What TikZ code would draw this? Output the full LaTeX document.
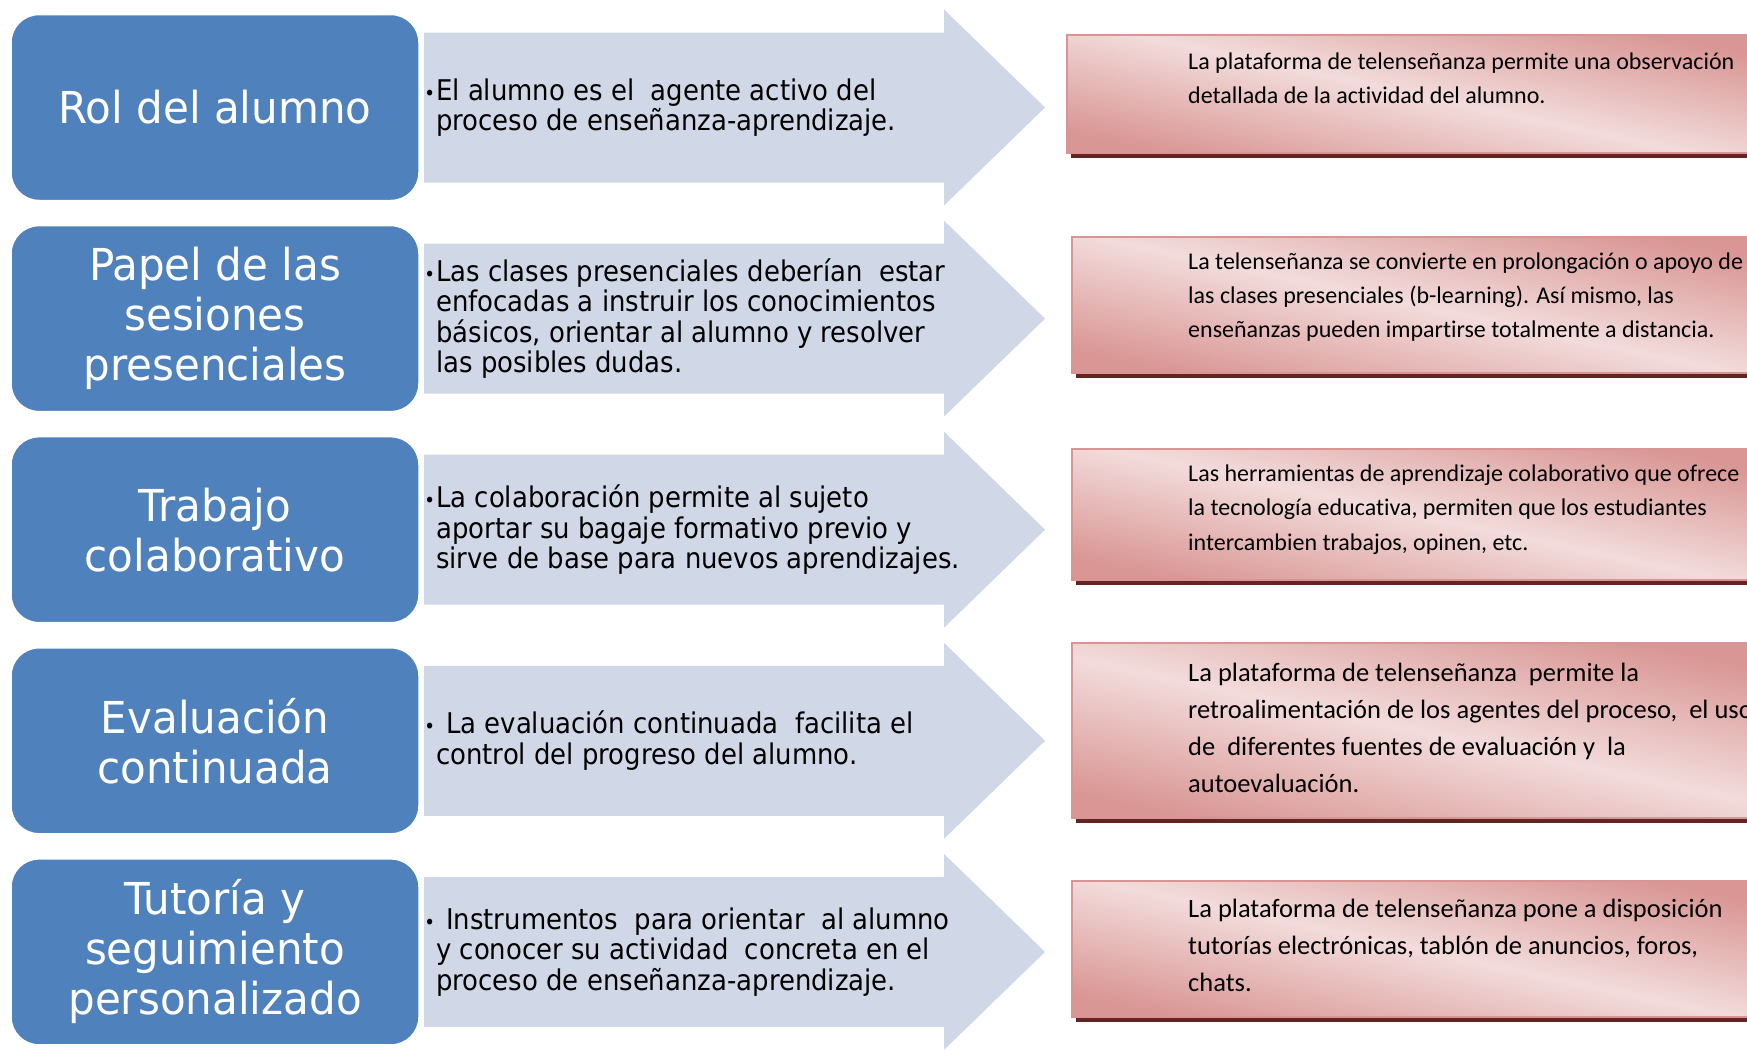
\documentclass[tikz,border=0pt]{standalone}
\usepackage{fontspec}
\newfontfamily\bluefont[FakeStretch=0.955]{DejaVu Sans}
\newfontfamily\arrowfont[FakeStretch=0.91]{DejaVu Sans}
\newfontfamily\redfont[Ligatures=NoCommon]{Carlito}
\definecolor{boxblue}{HTML}{4F81BD}
\definecolor{arrowfill}{HTML}{D0D8E8}
\definecolor{pinklight}{HTML}{F2DCDB}
\definecolor{pinkdark}{HTML}{D99694}
\definecolor{pinkedge}{HTML}{D99594}
\definecolor{shadowred}{HTML}{632523}
\tikzset{
  bluebox/.style={draw=white, line width=1.5pt, fill=boxblue, rounded corners=28pt,
    minimum width=408pt, minimum height=186pt, text=white, align=center,
    font=\bluefont\fontsize{44}{50}\selectfont, inner sep=0pt},
  arrowshape/.style={fill=arrowfill},
  arrowtext/.style={anchor=west, align=left, inner sep=0pt, text=black,
    font=\arrowfont\fontsize{28.5}{30.5}\selectfont},
  pinkbox/.style={draw=pinkedge, line width=2pt, top color=pinkdark, bottom color=pinkdark,
    middle color=pinklight, shading angle=-12},
  shadowbar/.style={fill=shadowred},
  redtext/.style={anchor=west, align=left, inner sep=0pt, text=black,
    font=\redfont\fontsize{24}{34.3}\selectfont},
  redtextbig/.style={redtext, font=\redfont\fontsize{26.5}{37}\selectfont},
}
\newcommand\myarrow[1]{%
  \fill[arrowshape] (424,{#1-75}) -- (944,{#1-75}) -- (944,{#1-98}) -- (1045,#1)
    -- (944,{#1+98}) -- (944,{#1+75}) -- (424,{#1+75}) -- cycle;}
\newcommand\mypink[3]{%
  \fill[shadowbar] ({#1+4},{#2+4}) rectangle (1760,{#3+5});
  \shade[pinkbox] (#1,#2) rectangle (1760,#3);}
\newcommand\bul{\llap{{\fontsize{20}{20}\selectfont\textbullet}\hspace{1pt}}}
\begin{document}
\begin{tikzpicture}[x=1pt,y=-1pt]
\fill[white] (0,0) rectangle (1747,1050);
\path[use as bounding box] (0,0) rectangle (1747,1050);

% row 1
\myarrow{107.5}
\mypink{1067}{35}{153}
\node[bluebox] (b1) at (215,107.5) {Rol del alumno};
\node[arrowtext] (a1) at (436,107.5) {\bul El alumno es el~ agente activo del\\proceso de enseñanza-aprendizaje.};
\node[redtext] (r1) at (1188,78.5) {La plataforma de telenseñanza permite una observación\\detallada de la actividad del alumno.};

% row 2
\myarrow{318.6}
\mypink{1072}{237}{373}
\node[bluebox] (b2) at (215,318.6) {Papel de las\\sesiones\\presenciales};
\node[arrowtext] (a2) at (436,318.6) {\bul Las clases presenciales deberían~ estar\\enfocadas a instruir los conocimientos\\básicos, orientar al alumno y resolver\\las posibles dudas.};
\node[redtext] (r2) at (1188,297) {La telenseñanza se convierte en prolongación o apoyo de\\las clases presenciales (b-learning). Así mismo, las\\enseñanzas pueden impartirse totalmente a distancia.};

% row 3
\myarrow{529.7}
\mypink{1072}{449}{580}
\node[bluebox] (b3) at (215,529.7) {Trabajo\\colaborativo};
\node[arrowtext] (a3) at (436,529.7) {\bul La colaboración permite al sujeto\\aportar su bagaje formativo previo y\\sirve de base para nuevos aprendizajes.};
\node[redtext] (r3) at (1188,509.6) {Las herramientas de aprendizaje colaborativo que ofrece\\la tecnología educativa, permiten que los estudiantes\\intercambien trabajos, opinen, etc.};

% row 4
\myarrow{740.8}
\mypink{1072}{643}{818}
\node[bluebox] (b4) at (215,740.8) {Evaluación\\continuada};
\node[arrowtext] (a4) at (436,740.8) {\bul\hspace{10pt}La evaluación continuada~ facilita el\\control del progreso del alumno.};
\node[redtextbig] (r4) at (1188,727.6) {La plataforma de telenseñanza~ permite la\\retroalimentación de los agentes del proceso,~ el uso\\de~ diferentes fuentes de evaluación y~ la\\autoevaluación.};

% row 5
\myarrow{951.9}
\mypink{1072}{881}{1017}
\node[bluebox] (b5) at (215,951.9) {Tutoría y\\seguimiento\\personalizado};
\node[arrowtext] (a5) at (436,951.9) {\bul\hspace{10pt}Instrumentos~ para orientar~ al alumno\\y conocer su actividad~ concreta en el\\proceso de enseñanza-aprendizaje.};
\node[redtextbig] (r5) at (1188,945.6) {La plataforma de telenseñanza pone a disposición\\tutorías electrónicas, tablón de anuncios, foros,\\chats.};
\end{tikzpicture}
\end{document}
